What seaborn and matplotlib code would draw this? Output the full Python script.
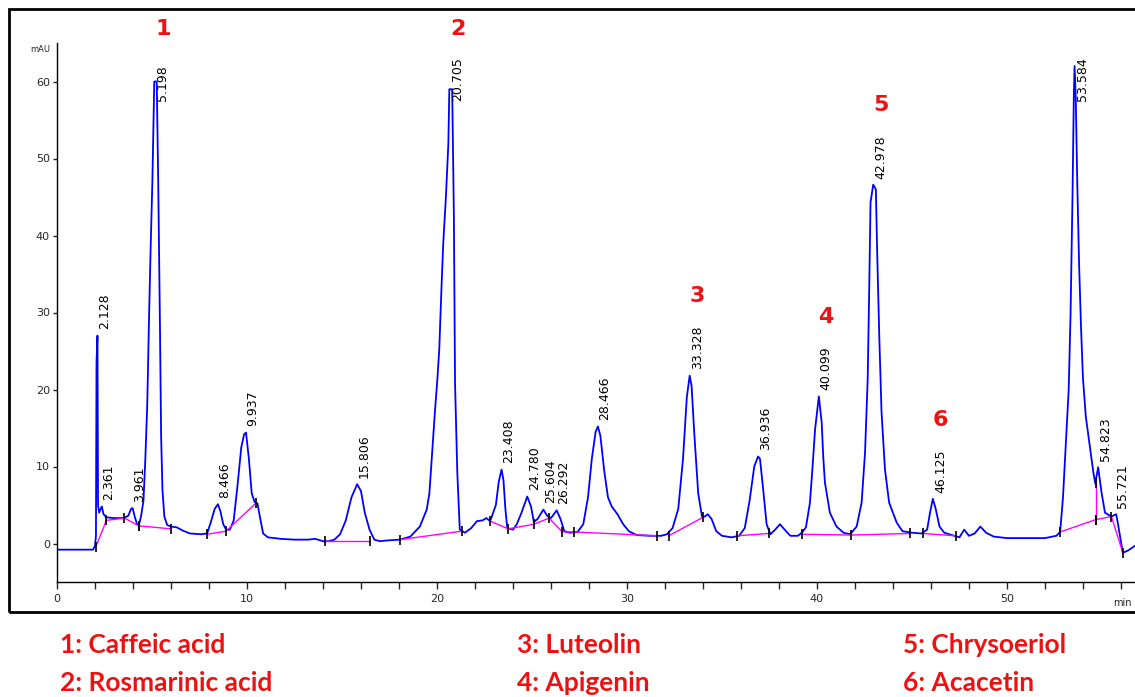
import matplotlib
matplotlib.use("Agg")
import matplotlib.pyplot as plt
import pandas as pd
import seaborn as sns
from matplotlib.patches import Rectangle
from matplotlib.ticker import MultipleLocator

# detector trace (min, mAU)
trace_time = [0.0, 1.9, 2.0, 2.05, 2.08, 2.13, 2.16, 2.22, 2.30, 2.36, 2.45, 2.6, 3.0, 3.5, 3.75, 3.9,
              3.98, 4.08, 4.2, 4.3, 4.42, 4.55, 4.65, 4.75, 4.85, 4.93, 5.02, 5.12, 5.25, 5.33, 5.42,
              5.48, 5.55, 5.65, 5.8, 6.0, 6.3, 6.6, 7.0, 7.6, 7.9, 8.1, 8.3, 8.47, 8.6, 8.75, 8.9, 9.1,
              9.3, 9.5, 9.7, 9.85, 9.95, 10.1, 10.25, 10.4, 10.55, 10.7, 10.85, 11.1, 11.8, 12.5, 13.2,
              13.6, 14.0, 14.3, 14.6, 14.9, 15.2, 15.5, 15.8, 16.0, 16.2, 16.45, 16.7, 17.0, 17.4, 18.05,
              18.6, 19.1, 19.46, 19.6, 19.75, 19.9, 20.02, 20.12, 20.24, 20.33, 20.47, 20.6, 20.65,
              20.8, 20.89, 20.95, 21.07, 21.2, 21.47, 21.8, 22.1, 22.4, 22.6, 22.8, 23.1, 23.25, 23.4,
              23.5, 23.6, 23.7, 24.0, 24.2, 24.45, 24.75, 24.95, 25.1, 25.3, 25.6, 25.8, 26.0, 26.3,
              26.5, 26.7, 27.0, 27.4, 27.7, 27.95, 28.15, 28.35, 28.47, 28.6, 28.8, 29.0, 29.2, 29.5,
              29.8, 30.1, 30.5, 31.2, 31.8, 32.1, 32.4, 32.7, 32.95, 33.15, 33.3, 33.4, 33.55, 33.75,
              33.95, 34.1, 34.25, 34.45, 34.7, 35.0, 35.5, 35.9, 36.2, 36.45, 36.7, 36.9, 37.0, 37.15,
              37.35, 37.55, 37.8, 38.05, 38.3, 38.6, 39.0, 39.2, 39.42, 39.63, 39.77, 39.9, 40.1, 40.25,
              40.33, 40.42, 40.68, 41.03, 41.4, 41.74, 42.09, 42.35, 42.53, 42.67, 42.75, 42.82, 42.96,
              43.1, 43.17, 43.28, 43.4, 43.58, 43.8, 44.2, 44.5, 45.0, 45.5, 45.8, 45.95, 46.1, 46.25,
              46.45, 46.7, 47.1, 47.5, 47.75, 48.0, 48.3, 48.6, 48.9, 49.3, 50.0, 51.0, 52.0, 52.6,
              52.8, 52.95, 53.1, 53.25, 53.35, 53.45, 53.52, 53.56, 53.62, 53.7, 53.8, 53.9, 54.0,
              54.15, 54.35, 54.55, 54.65, 54.8, 54.98, 55.16, 55.5, 55.75, 55.86, 56.1, 56.38, 56.74]
trace_mau = [-0.8, -0.8, -0.3, 1.0, 23.5, 27.0, 5.0, 4.0, 4.5, 4.8, 3.8, 3.4, 3.3, 3.3, 3.6, 4.5,
             4.6, 3.6, 2.6, 2.3, 3.5, 5.5, 11.0, 18.0, 30.0, 38.5, 47.0, 60.0, 60.0, 46.5, 28.0,
             14.0, 7.0, 3.5, 2.4, 2.2, 2.1, 1.7, 1.3, 1.2, 1.3, 2.8, 4.5, 5.1, 4.2, 2.5, 1.8, 1.8,
             3.0, 7.5, 12.5, 14.2, 14.4, 11.0, 6.5, 5.4, 5.2, 3.2, 1.3, 0.8, 0.6, 0.5, 0.5,
             0.6, 0.3, 0.3, 0.5, 1.2, 3.0, 6.0, 7.7, 6.8, 4.0, 1.8, 0.5, 0.3, 0.4, 0.5,
             0.9, 2.2, 4.4, 6.5, 12.0, 17.4, 21.3, 25.2, 33.4, 39.0, 45.0, 52.0, 59.0,
             59.0, 42.5, 20.9, 9.2, 1.8, 1.4, 2.0, 2.9, 3.0, 3.3, 2.9, 5.0, 8.0, 9.6,
             8.2, 4.5, 2.0, 1.8, 2.5, 4.0, 6.1, 4.8, 2.8, 3.2, 4.4, 3.6, 3.3, 4.3,
             3.2, 1.6, 1.4, 1.5, 2.5, 6.0, 11.0, 14.5, 15.2, 14.0, 9.5, 6.0, 4.8, 3.8,
             2.5, 1.6, 1.1, 1.0, 1.0, 1.2, 2.0, 4.5, 11.0, 19.0, 21.8, 20.5, 14.0, 6.5,
             3.5, 3.5, 3.8, 3.2, 1.6, 1.0, 0.8, 1.0, 2.0, 5.5, 10.0, 11.3, 11.0, 7.5,
             2.5, 1.2, 1.8, 2.5, 1.8, 1.0, 1.0, 1.4, 2.1, 5.3, 10.0, 14.8, 19.1, 15.7,
             11.3, 7.9, 4.0, 2.2, 1.4, 1.2, 2.2, 5.3, 11.8, 21.3, 33.0, 44.3, 46.6,
             46.0, 37.8, 26.9, 17.0, 9.6, 5.3, 2.7, 1.6, 1.4, 1.3, 1.8, 4.0, 5.8, 4.5,
             2.2, 1.4, 1.1, 0.8, 1.8, 1.0, 1.3, 2.2, 1.4, 0.9, 0.7, 0.7, 0.7, 1.0,
             1.5, 6.0, 13.0, 20.0, 30.0, 45.0, 58.0, 62.0, 58.0, 47.0, 36.0, 28.0, 21.5,
             16.5, 12.8, 9.2, 7.8, 9.9, 6.6, 4.0, 3.5, 3.8, 2.3, -1.2, -0.9, -0.3]

# integration baselines (segment id, min, mAU)
base_seg = [0, 0, 0, 0, 1, 1, 2, 2, 2, 3, 3, 4, 4, 5, 5, 5, 5, 5, 5, 5,
            6, 6, 7, 7, 8, 8, 8, 9, 9, 10, 10, 10, 10, 11, 11]
base_time = [2.05, 2.6, 3.55, 4.3, 4.3, 6.0, 7.9, 8.9, 10.45, 14.1, 16.5, 18.05, 21.3,
             22.8, 23.75, 25.1, 25.9, 26.6, 27.2, 31.6,
             32.2, 34.0, 35.8, 37.45, 39.2, 41.8, 44.9, 45.6, 47.3,
             52.8, 54.68, 55.5, 56.1, 54.68, 54.68]
base_mau = [-0.4, 3.0, 3.3, 2.3, 2.3, 1.9, 1.2, 1.6, 5.2, 0.3, 0.3, 0.5, 1.6,
            2.9, 1.9, 2.5, 3.3, 1.5, 1.5, 1.0,
            1.0, 3.4, 1.0, 1.3, 1.2, 1.1, 1.3, 1.3, 1.0,
            1.5, 3.1, 3.5, -1.2, 3.1, 7.9]

# retention time labels
peak_rt = [2.128, 2.361, 3.961, 5.198, 8.466, 9.937, 15.806, 20.705, 23.408, 24.780, 25.604,
           26.292, 28.466, 33.328, 36.936, 40.099, 42.978, 46.125, 53.584, 54.823, 55.721]
peak_height = [27.0, 4.8, 4.6, 60.0, 5.1, 14.4, 7.7, 59.0, 9.6, 6.1, 4.4,
               4.3, 15.2, 21.8, 11.3, 19.1, 46.6, 5.8, 62.0, 9.9, 3.8]

# identified compounds
compound_no = ["1", "2", "3", "4", "5", "6"]
compound_rt = [5.198, 20.705, 33.328, 40.099, 42.978, 46.125]
compound_height = [60.0, 59.0, 21.8, 19.1, 46.6, 5.8]
compound_name = ["Caffeic acid", "Rosmarinic acid", "Luteolin", "Apigenin", "Chrysoeriol", "Acacetin"]


def show_chart():
    sns.set_style("white")
    plt.rcParams["font.family"] = ["DejaVu Sans"]

    trace = pd.DataFrame({"time": trace_time, "mAU": trace_mau})
    base = pd.DataFrame({"seg": base_seg, "time": base_time, "mAU": base_mau})

    fig = plt.figure(figsize=(11.35, 6.97), dpi=100)
    W, H = 1135, 697
    ax = fig.add_axes([57 / W, 1 - 582 / H, 1 - 57 / W, (582 - 43) / H])

    sns.lineplot(data=trace, x="time", y="mAU", color="#0000ff", linewidth=1.3,
                 estimator=None, sort=False, ax=ax)
    sns.lineplot(data=base, x="time", y="mAU", units="seg", color="#ff00ff", linewidth=1.0,
                 estimator=None, sort=False, ax=ax)
    sns.scatterplot(data=base, x="time", y="mAU", marker="|", color="black", s=45,
                    linewidth=1.2, ax=ax, zorder=4)

    for rt, h in zip(peak_rt, peak_height):
        ax.text(rt + 0.38, min(h + 0.8, 57.5), f"{rt:.3f}", rotation=90, ha="center",
                va="bottom", fontsize=9, color="black")

    for no, rt, h in zip(compound_no, compound_rt, compound_height):
        ax.text(rt + 0.38, min(h, 56.5) + 10.3, no, ha="center", va="center", fontsize=16,
                fontweight="bold", color="#ee1111", clip_on=False)

    ax.set_xlim(0, 56.74)
    ax.set_ylim(-5, 65)
    ax.xaxis.set_major_locator(MultipleLocator(10))
    ax.xaxis.set_minor_locator(MultipleLocator(2))
    ax.set_yticks([0, 10, 20, 30, 40, 50, 60])
    ax.tick_params(axis="x", which="both", direction="out", length=5, width=1, labelsize=8,
                   bottom=True, pad=4)
    ax.tick_params(axis="y", direction="out", length=3, width=1, labelsize=8, left=True, pad=2)
    ax.set_xlabel("")
    ax.set_ylabel("")
    sns.despine(ax=ax, top=True, right=True)
    for s in ("left", "bottom"):
        ax.spines[s].set_color("black")
        ax.spines[s].set_linewidth(1.0)

    fig.text(40 / W, 1 - 50 / H, "mAU", fontsize=6, ha="center", va="center")
    fig.text(1113 / W, 1 - 603 / H, "min", fontsize=7, ha="left", va="center")

    fig.add_artist(Rectangle((9 / W, 1 - 612 / H), 1.2, (612 - 9) / H, transform=fig.transFigure,
                             fill=False, edgecolor="black", linewidth=2))

    cols = [60, 517, 903]
    for i, (no, name) in enumerate(zip(compound_no, compound_name)):
        x = cols[i // 2]
        y = 645 if i % 2 == 0 else 683
        fig.text(x / W, 1 - y / H, f"{no}: {name}", fontsize=19, family="Lato",
                 fontweight="bold", color="#ee1111", ha="left", va="center")

    fig.savefig("out.png", dpi=100)


if __name__ == '__main__':
    show_chart()
